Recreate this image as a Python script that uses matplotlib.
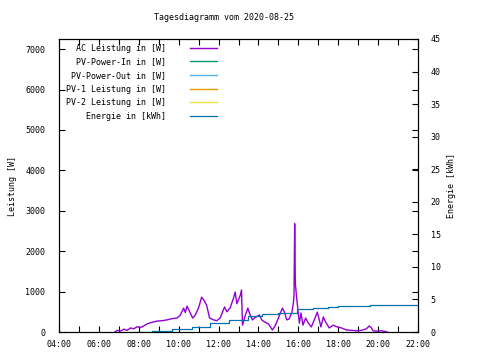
import numpy as np
import pandas as pd
import matplotlib
matplotlib.use('Agg')
import matplotlib.pyplot as plt
import matplotlib.dates as mdates
import matplotlib.ticker as mticker

date = '2020-08-25'

# AC power (W)
ac_time = ['06:48', '06:55', '07:05', '07:15', '07:25', '07:35', '07:45', '07:55',
           '08:05', '08:15', '08:25', '08:35', '08:45', '08:55', '09:10', '09:25',
           '09:40', '09:55', '10:05', '10:15', '10:20', '10:25', '10:35', '10:42',
           '10:50', '11:00', '11:09', '11:15', '11:24', '11:33', '11:45', '11:55',
           '12:05', '12:18', '12:25', '12:35', '12:45', '12:50', '12:55', '13:05',
           '13:09', '13:12', '13:20', '13:28', '13:35', '13:42', '13:50', '14:03',
           '14:10', '14:18', '14:30', '14:42', '14:50', '14:58', '15:05', '15:12',
           '15:18', '15:25', '15:32', '15:40', '15:45', '15:47', '15:49', '15:51',
           '15:55', '16:03', '16:08', '16:14', '16:22', '16:30', '16:39', '16:48',
           '16:57', '17:03', '17:08', '17:15', '17:22', '17:33', '17:45', '17:55',
           '18:10', '18:25', '18:40', '18:55', '19:10', '19:25', '19:33', '19:40',
           '19:45', '19:55', '20:10', '20:20', '20:27']
ac_power = [0, 40, 20, 70, 40, 100, 80, 130,
            110, 150, 200, 230, 250, 270, 280, 300,
            330, 345, 420, 590, 480, 640, 470, 345,
            420, 600, 860, 800, 665, 345, 300, 280,
            350, 620, 500, 600, 840, 990, 700, 900,
            1040, 170, 400, 590, 420, 300, 360, 420,
            300, 250, 200, 50, 150, 300, 450, 590,
            500, 300, 320, 470, 700, 910, 2680, 1200,
            840, 220, 470, 170, 345, 220, 125, 300,
            490, 300, 125, 370, 250, 100, 170, 130,
            100, 50, 40, 30, 40, 80, 150, 100,
            30, 20, 30, 15, 0]

# Energy (kWh)
en_time = ['07:50', '08:40', '09:40', '10:40', '11:35', '12:30', '13:30', '14:10',
           '15:00', '15:55', '16:45', '17:30', '18:00', '19:35', '22:00']
energy = [0, 0.15, 0.45, 0.8, 1.43, 1.84, 2.46, 2.7,
          2.87, 3.5, 3.73, 3.9, 4.04, 4.14, 4.14]

labels = ['AC Leistung in [W]', 'PV-Power-In in [W]', 'PV-Power-Out in [W]',
          'PV-1 Leistung in [W]', 'PV-2 Leistung in [W]', 'Energie in [kWh]']
colors = ['#9400d3', '#009e73', '#56b4e9', '#e69f00', '#f0e442', '#0072b2']

plt.rcParams['font.family'] = 'DejaVu Sans Mono'
plt.rcParams['font.size'] = 6

t_ac = pd.to_datetime([f'{date} {t}' for t in ac_time])
t_en = pd.to_datetime([f'{date} {t}' for t in en_time])

fig = plt.figure(figsize=(4.8, 3.6), dpi=100)
ax = fig.add_axes([59/480, 1 - 332/360, 359/480, 293/360])
ax2 = ax.twinx()

lines = []
lines += ax.plot(t_ac, ac_power, color=colors[0], lw=1.0, label=labels[0])
for k in range(1, 5):
    lines += ax.plot([], [], color=colors[k], lw=1.0, label=labels[k])
lines += ax2.plot(t_en, energy, color=colors[5], lw=0.9, drawstyle='steps-post', label=labels[5])

ax.set_xlim(pd.Timestamp(f'{date} 04:00'), pd.Timestamp(f'{date} 22:00'))
ax.set_ylim(0, 7250)
ax2.set_ylim(0, 45)

ax.xaxis.set_major_locator(mdates.HourLocator(interval=2))
ax.xaxis.set_minor_locator(mdates.HourLocator())
ax.xaxis.set_major_formatter(mdates.DateFormatter('%H:%M'))
ax.yaxis.set_major_locator(mticker.MultipleLocator(1000))
ax2.yaxis.set_major_locator(mticker.MultipleLocator(5))

ax.tick_params(axis='both', which='both', direction='in', length=4, width=0.8,
               top=True, right=True, labelright=False)
ax.tick_params(axis='y', pad=10)
ax.tick_params(axis='x', pad=6)
ax2.tick_params(axis='y', direction='in', length=4, width=0.8, pad=9)

for a in (ax, ax2):
    for s in a.spines.values():
        s.set_linewidth(0.8)

ax.set_ylabel('Leistung [W]', labelpad=6)
ax2.set_ylabel('Energie [kWh]', labelpad=5)
fig.text(224/480, 1 - 18/360, 'Tagesdiagramm vom 2020-08-25', ha='center', va='center')

ax.legend(lines, labels, loc='upper right', bbox_to_anchor=(0.45, 0.995),
          frameon=False, markerfirst=False, handlelength=3.3, handletextpad=2.9,
          labelspacing=0.55, borderaxespad=0)

fig.savefig('out.png', dpi=100)
